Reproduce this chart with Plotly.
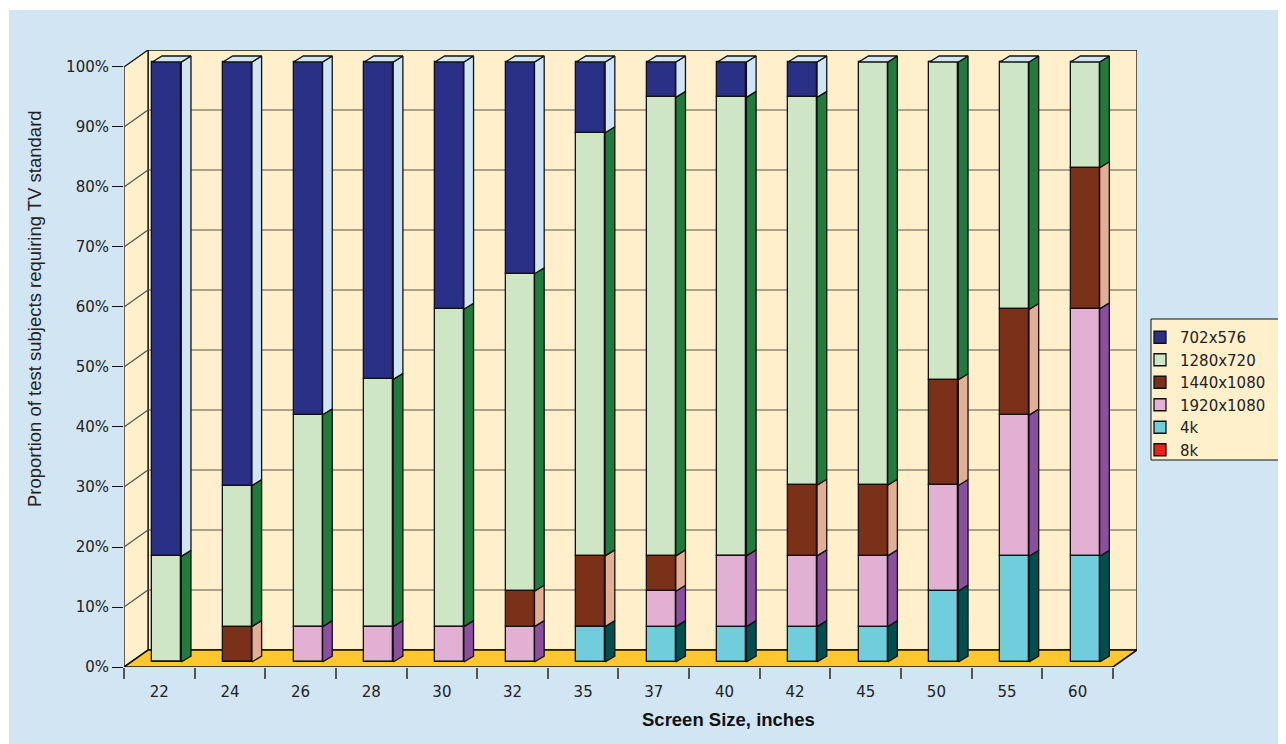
import plotly.graph_objects as go

# ---------------- data (percent of test subjects) ----------------
sizes = ["22", "24", "26", "28", "30", "32", "35", "37", "40", "42", "45", "50", "55", "60"]
s_8k    = [0, 0, 0, 0, 0, 0, 0, 0, 0, 0, 0, 0, 0, 0]
s_4k    = [0, 0, 0, 0, 0, 0, 5.9, 5.9, 5.9, 5.9, 5.9, 11.8, 17.6, 17.6]
s_1920  = [0, 0, 5.9, 5.9, 5.9, 5.9, 0, 5.9, 11.8, 11.8, 11.8, 17.6, 23.5, 41.2]
s_1440  = [0, 5.9, 0, 0, 0, 5.9, 11.8, 5.9, 0, 11.8, 11.8, 17.6, 17.6, 23.5]
s_1280  = [17.6, 23.5, 35.3, 41.2, 52.9, 52.9, 70.6, 76.5, 76.5, 64.7, 70.6, 52.9, 41.2, 17.6]
s_702   = [82.4, 70.6, 58.8, 52.9, 41.2, 35.3, 11.8, 5.9, 5.9, 5.9, 0, 0, 0, 0]
y_ticks = [0, 10, 20, 30, 40, 50, 60, 70, 80, 90, 100]

# stacking order bottom -> top : (name, values, front colour, side colour)
stack = [
    ("8k", s_8k, "#E8231C", "#8E1510"),
    ("4k", s_4k, "#6FCDDC", "#004F4F"),
    ("1920x1080", s_1920, "#E1B0D3", "#8B4FA0"),
    ("1440x1080", s_1440, "#7B3119", "#E2AE94"),
    ("1280x720", s_1280, "#CEE6C6", "#207B3D"),
    ("702x576", s_702, "#2B3087", "#CFE5F4"),
]
legend_order = ["702x576", "1280x720", "1440x1080", "1920x1080", "4k", "8k"]

# ---------------- geometry (data units) ----------------
N = len(sizes)
DX, DY = 0.34, 2.83        # depth of the chart box
BAR_W = 0.41               # bar front width
BX, BY = 0.106, 0.83       # front-face offset inside the depth
BDX, BDY = 0.137, 1.0      # bar depth
TOP_COL = "#CFE5F4"
WALL = "#FFEFCA"
FLOOR = "#FFC72E"
BG = "#D2E5F3"
EDGE = "#111111"

# normalise to 100 % per category (100 % stacked chart)
totals = [sum(s[1][i] for s in stack) for i in range(N)]
pct = {name: [v / totals[i] * 100 for i, v in enumerate(vals)] for name, vals, _, _ in stack}

fig = go.Figure()

bases = [0.0] * N
seg = {}
for name, vals, fc, sc in stack:
    p = pct[name]
    seg[name] = (list(bases), p)
    bases = [b + v for b, v in zip(bases, p)]

# front faces (legend traces) in legend order
for name in legend_order:
    fc = [s[2] for s in stack if s[0] == name][0]
    b, p = seg[name]
    fig.add_trace(go.Bar(
        x=[i + BX for i in range(N)], y=p, base=[v + BY for v in b],
        width=BAR_W, name=name,
        marker=dict(color=fc, line=dict(color=EDGE, width=1.3)),
        hovertemplate=name + ": %{y:.1f}%<extra></extra>",
    ))

# side faces
for name, vals, fc, sc in stack:
    b, p = seg[name]
    xs, ys = [], []
    for i in range(N):
        if p[i] <= 0:
            continue
        xr = i + BX + BAR_W / 2
        y0 = b[i] + BY
        y1 = b[i] + p[i] + BY
        xs += [xr, xr + BDX, xr + BDX, xr, xr, None]
        ys += [y0, y0 + BDY, y1 + BDY, y1, y0, None]
    if xs:
        fig.add_trace(go.Scatter(x=xs, y=ys, mode="lines", fill="toself",
                                 fillcolor=sc, line=dict(color=EDGE, width=1.3),
                                 showlegend=False, hoverinfo="skip"))

# top faces
xs, ys = [], []
for i in range(N):
    top = bases[i] + BY
    xl = i + BX - BAR_W / 2
    xr = i + BX + BAR_W / 2
    xs += [xl, xl + BDX, xr + BDX, xr, xl, None]
    ys += [top, top + BDY, top + BDY, top, top, None]
fig.add_trace(go.Scatter(x=xs, y=ys, mode="lines", fill="toself", fillcolor=TOP_COL,
                         line=dict(color=EDGE, width=1.3),
                         showlegend=False, hoverinfo="skip"))

# ---------------- walls, floor, gridlines ----------------
x0, x1 = -0.5, N - 0.5
shapes = []
shapes.append(dict(type="rect", xref="x", yref="y", x0=x0 + DX, x1=x1 + DX, y0=DY, y1=100 + DY,
                   fillcolor=WALL, line=dict(color=EDGE, width=1.3), layer="below"))
shapes.append(dict(type="path", xref="x", yref="y",
                   path=f"M {x0},0 L {x0 + DX},{DY} L {x0 + DX},{100 + DY} L {x0},100 Z",
                   fillcolor=WALL, line=dict(color=EDGE, width=1.3), layer="below"))
for v in y_ticks[1:-1]:
    shapes.append(dict(type="line", xref="x", yref="y", x0=x0, y0=v, x1=x0 + DX, y1=v + DY,
                       line=dict(color="#5A5448", width=1.2), layer="below"))
    shapes.append(dict(type="line", xref="x", yref="y", x0=x0 + DX, y0=v + DY, x1=x1 + DX, y1=v + DY,
                       line=dict(color="#5A5448", width=1.2), layer="below"))
shapes.append(dict(type="path", xref="x", yref="y",
                   path=f"M {x0},0 L {x1},0 L {x1 + DX},{DY} L {x0 + DX},{DY} Z",
                   fillcolor=FLOOR, line=dict(color=EDGE, width=1.6), layer="below"))

# page background (blue panel) and legend box  (figure pixel coordinates)
L, R, T, B = 116, 1129, 42, 659
PW, PH = R - L, B - T
def px(xp): return (xp - L) / PW
def py(yp): return (B - yp) / PH
shapes.append(dict(type="rect", xref="paper", yref="paper", x0=px(1), x1=px(1300),
                   y0=py(760), y1=py(2), fillcolor=BG, line=dict(width=0), layer="below"))
shapes.append(dict(type="rect", xref="paper", yref="paper", x0=px(1143), x1=px(1275),
                   y0=py(452), y1=py(311), fillcolor="#FFF0CC",
                   line=dict(color=EDGE, width=1), layer="below"))

fig.update_layout(
    width=1286, height=744,
    margin=dict(l=L, r=1286 - R, t=T, b=744 - B),
    paper_bgcolor="white", plot_bgcolor=BG,
    barmode="overlay", bargap=0,
    shapes=shapes,
    showlegend=True,
    legend=dict(x=px(1132), y=py(313), xanchor="left", yanchor="top",
                bgcolor="rgba(0,0,0,0)", borderwidth=0,
                font=dict(family="DejaVu Sans", size=15, color="#222222"),
                traceorder="normal"),
    font=dict(family="DejaVu Sans", size=15, color="#222222"),
    xaxis=dict(range=[x0, x1 + DX], showgrid=False, zeroline=False, showline=False,
               tickmode="array", tickvals=list(range(N)), ticktext=sizes,
               ticks="outside", ticklen=11, tickcolor="rgba(0,0,0,0)",
               tickfont=dict(family="DejaVu Sans", size=15, color="#222222"),
               minor=dict(tickmode="array", tickvals=[i - 0.5 for i in range(N + 1)],
                          ticks="outside", ticklen=11, tickwidth=1.5, tickcolor="#555555",
                          showgrid=False)),
    yaxis=dict(range=[0, 100 + DY], showgrid=False, zeroline=False, showline=False,
               tickmode="array", tickvals=y_ticks, ticktext=[f"{v}%" for v in y_ticks],
               ticks="outside", ticklen=11, tickwidth=1.3, tickcolor=EDGE,
               tickfont=dict(family="DejaVu Sans", size=15, color="#222222")),
    annotations=[
        dict(text="Proportion of test subjects requiring TV standard", xref="paper", yref="paper",
             x=px(26), y=py(301), xanchor="center", yanchor="middle", textangle=-90,
             showarrow=False, font=dict(family="Liberation Sans", size=18.5, color="#222222")),
        dict(text="<b>Screen Size, inches</b>", xref="paper", yref="paper",
             x=px(720), y=py(711), xanchor="center", yanchor="middle",
             showarrow=False, font=dict(family="Liberation Sans", size=18.5, color="#111111")),
    ],
)

fig.write_html("out.html")
